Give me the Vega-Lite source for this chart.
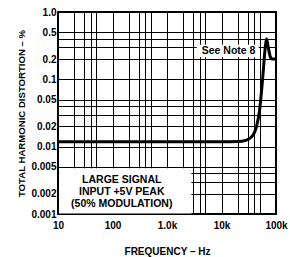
{
  "$schema": "https://vega.github.io/schema/vega-lite/v6.json",
  "width": 218,
  "height": 202,
  "autosize": {"type": "none"},
  "padding": {"left": 58, "top": 12, "right": 14, "bottom": 43},
  "background": "white",
  "config": {
    "view": {"stroke": "black", "strokeWidth": 2},
    "font": "Liberation Sans",
    "axis": {
      "gridColor": "black",
      "gridOpacity": 1,
      "gridWidth": 1,
      "domain": false,
      "labelFont": "Liberation Sans",
      "labelFontWeight": "bold",
      "labelColor": "black",
      "labelFontSize": 10,
      "titleFont": "Liberation Sans",
      "titleFontWeight": "bold",
      "titleColor": "black",
      "titleFontSize": 10,
      "tickColor": "black",
      "tickSize": -4,
      "tickWidth": 1
    }
  },
  "datasets": {
    "thd": [
      {"f": 10, "thd": 0.0118},
      {"f": 100, "thd": 0.0118},
      {"f": 1000, "thd": 0.0118},
      {"f": 10000, "thd": 0.0118},
      {"f": 20000, "thd": 0.0119},
      {"f": 28000, "thd": 0.0124},
      {"f": 35000, "thd": 0.0138},
      {"f": 40000, "thd": 0.016},
      {"f": 44000, "thd": 0.02},
      {"f": 50000, "thd": 0.035},
      {"f": 57000, "thd": 0.105},
      {"f": 63000, "thd": 0.28},
      {"f": 67000, "thd": 0.4},
      {"f": 72000, "thd": 0.3},
      {"f": 78000, "thd": 0.22},
      {"f": 85000, "thd": 0.2},
      {"f": 100000, "thd": 0.2}
    ],
    "boxes": [
      {"x1": 10.5, "x2": 2800, "y1": 0.00102, "y2": 0.0048},
      {"x1": 3500, "x2": 48000, "y1": 0.213, "y2": 0.325}
    ],
    "notes": [
      {"x": 13500, "y": 0.262, "label": "See Note 8"},
      {"x": 148, "y": 0.00315, "label": "LARGE SIGNAL"},
      {"x": 148, "y": 0.0021, "label": "INPUT +5V PEAK"},
      {"x": 148, "y": 0.0014, "label": "(50% MODULATION)"}
    ]
  },
  "encoding": {
    "x": {
      "type": "quantitative",
      "scale": {"type": "log", "domain": [10, 100000], "nice": false},
      "axis": {
        "title": "FREQUENCY – Hz",
        "titlePadding": 16,
        "values": [10,20,30,40,50,100,200,300,400,500,1000,2000,3000,4000,5000,10000,20000,30000,40000,50000,100000],
        "labelExpr": "datum.value == 10 ? '10' : datum.value == 100 ? '100' : datum.value == 1000 ? '1.0k' : datum.value == 10000 ? '10k' : datum.value == 100000 ? '100k' : ''",
        "labelPadding": 10,
        "labelFlush": false
      }
    },
    "y": {
      "type": "quantitative",
      "scale": {"type": "log", "domain": [0.001, 1], "nice": false},
      "axis": {
        "title": "TOTAL HARMONIC DISTORTION – %",
        "titleFontSize": 9.6,
        "titlePadding": 4,
        "values": [0.001,0.002,0.003,0.004,0.005,0.01,0.02,0.03,0.04,0.05,0.1,0.2,0.3,0.4,0.5,1],
        "labelExpr": "datum.value == 1 ? '1.0' : (datum.value == 0.3 || datum.value == 0.4 || datum.value == 0.03 || datum.value == 0.04 || datum.value == 0.003 || datum.value == 0.004) ? '' : format(datum.value, '')",
        "labelPadding": 6,
        "labelFlush": false
      }
    }
  },
  "layer": [
    {
      "data": {"name": "boxes"},
      "mark": {"type": "rect", "fill": "white", "stroke": null},
      "encoding": {
        "x": {"field": "x1", "type": "quantitative"},
        "x2": {"field": "x2"},
        "y": {"field": "y1", "type": "quantitative"},
        "y2": {"field": "y2"}
      }
    },
    {
      "data": {"name": "thd"},
      "mark": {"type": "line", "color": "black", "strokeWidth": 3, "interpolate": "monotone"},
      "encoding": {
        "x": {"field": "f", "type": "quantitative"},
        "y": {"field": "thd", "type": "quantitative"}
      }
    },
    {
      "data": {"name": "notes"},
      "mark": {"type": "text", "font": "Liberation Sans", "fontWeight": "bold", "fontSize": 10.5, "color": "black", "align": "center", "baseline": "middle"},
      "encoding": {
        "x": {"field": "x", "type": "quantitative"},
        "y": {"field": "y", "type": "quantitative"},
        "text": {"field": "label"}
      }
    }
  ]
}
